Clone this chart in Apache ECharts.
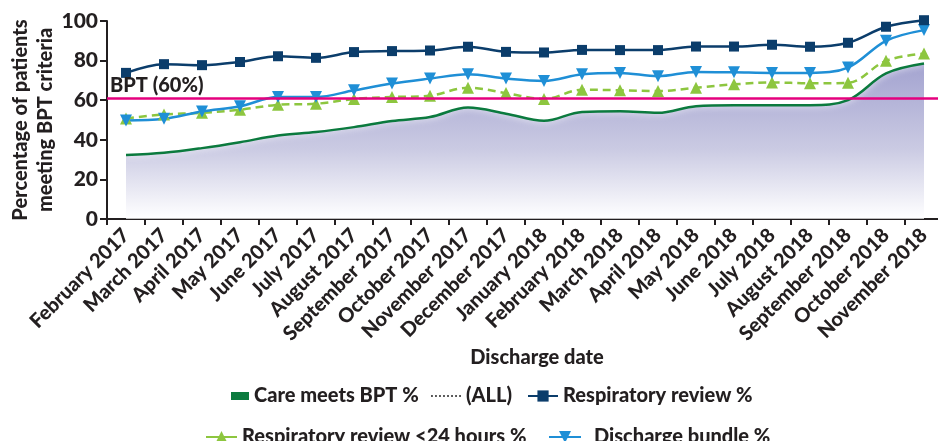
<!DOCTYPE html>
<html>
<head>
<meta charset="utf-8">
<script src="https://cdn.jsdelivr.net/npm/echarts@6/dist/echarts.min.js"></script>
<style>
html,body{margin:0;padding:0;background:#fff;}
#chart{width:938px;height:441px;}
</style>
</head>
<body>
<div id="chart"></div>
<script>
const categories = ['February 2017','March 2017','April 2017','May 2017','June 2017','July 2017','August 2017','September 2017','October 2017','November 2017','December 2017','January 2018','February 2018','March 2018','April 2018','May 2018','June 2018','July 2018','August 2018','September 2018','October 2018','November 2018'];
const careMeetsBPT = [32.3, 33.4, 35.8, 38.8, 42.2, 43.9, 46.4, 49.5, 51.5, 56.3, 53.2, 49.6, 54.1, 54.4, 53.6, 57.0, 57.5, 57.5, 57.5, 60.0, 73.5, 78.5];
const respiratoryReview = [73.8, 78.2, 77.7, 79.3, 82.2, 81.4, 84.3, 84.8, 85.1, 87.0, 84.4, 84.1, 85.4, 85.3, 85.3, 87.1, 87.1, 88.0, 87.0, 89.0, 97.1, 100.4];
const respReview24h = [50.8, 52.8, 53.6, 55.2, 57.7, 58.2, 60.6, 61.6, 62.3, 66.3, 63.6, 60.6, 65.3, 65.0, 64.6, 66.3, 68.0, 69.0, 68.5, 68.8, 79.9, 83.6];
const dischargeBundle = [49.7, 50.6, 54.3, 56.9, 61.6, 61.6, 65.0, 68.4, 70.9, 73.1, 70.9, 69.7, 73.1, 73.8, 72.1, 74.3, 74.1, 73.8, 73.8, 76.5, 90.0, 95.4];
const bptTarget = 61;
const bptLabel = 'BPT (60%)';
const yTicks = {min: 0, max: 100, interval: 20};

const FONT = 'Lato';
const TXT = '#231f20';
const W = 900;
const chart = echarts.init(document.getElementById('chart'), null, {renderer: 'canvas'});
const legendText = {fontFamily: FONT, fontWeight: W, fontSize: 20, color: TXT};

// dotted-line legend glyph
let dots = '';
for (let i = 0; i < 8; i++) { dots += 'M' + (i * 3.4) + ',0h1.6v1.6h-1.6z'; }
const dottedIcon = 'path://' + dots;

chart.setOption({
  animation: false,
  textStyle: {fontFamily: FONT},
  grid: {left: 107, top: 21, bottom: 222, width: 836, containLabel: false, outerBoundsMode: 'none'},
  xAxis: {
    type: 'category',
    data: categories,
    boundaryGap: true,
    name: 'Discharge date',
    nameLocation: 'middle',
    nameGap: 123,
    nameTextStyle: {fontFamily: FONT, fontWeight: W, fontSize: 20, color: TXT, padding: [0, 0, 0, 24]},
    axisLine: {lineStyle: {color: TXT, width: 2}},
    axisTick: {show: true, inside: false, length: 6, alignWithLabel: false, lineStyle: {color: TXT, width: 2}},
    axisLabel: {rotate: 45, interval: 0, margin: 13, fontFamily: FONT, fontWeight: W, fontSize: 20, color: TXT}
  },
  yAxis: {
    type: 'value',
    min: yTicks.min, max: yTicks.max, interval: yTicks.interval,
    name: 'Percentage of patients\nmeeting BPT criteria',
    nameLocation: 'middle',
    nameRotate: 90,
    nameGap: 49,
    nameMoveOverlap: false,
    nameTextStyle: {fontFamily: FONT, fontWeight: W, fontSize: 20, lineHeight: 25, color: TXT},
    axisLine: {show: true, lineStyle: {color: TXT, width: 2}},
    axisTick: {show: true, inside: false, length: 7, lineStyle: {color: TXT, width: 2}},
    splitLine: {show: false},
    axisLabel: {margin: 9, fontFamily: FONT, fontWeight: W, fontSize: 21, color: TXT}
  },
  legend: [
    {data: ['Care meets BPT %'], left: 226, top: 381, icon: 'rect', itemWidth: 18, itemHeight: 8, textStyle: legendText},
    {data: [{name: '(ALL)', icon: dottedIcon}, 'Respiratory review %'], left: 426, top: 381, itemWidth: 30, itemHeight: 14, itemGap: 15, textStyle: legendText},
    {data: ['Respiratory review <24 hours %'], left: 200, top: 422, itemWidth: 31, itemHeight: 15, lineStyle: {type: 'solid'}, textStyle: legendText},
    {data: ['Discharge bundle %'], left: 543, top: 422, itemWidth: 32, itemHeight: 15, textStyle: Object.assign({}, legendText, {padding: [0, 0, 0, 8]})}
  ],
  series: [
    {
      name: 'Care meets BPT %',
      type: 'line',
      data: careMeetsBPT,
      smooth: 0.35,
      symbol: 'none',
      color: '#0b7a3e',
      lineStyle: {color: '#0b7a3e', width: 2.5, shadowColor: 'rgba(255,255,255,1)', shadowBlur: 6},
      areaStyle: {
        origin: 'start',
        color: new echarts.graphic.LinearGradient(0, 0, 0, 1, [
          {offset: 0, color: '#7b7bbb'},
          {offset: 0.55, color: '#b3b3d6'},
          {offset: 1, color: '#ffffff'}
        ])
      },
      z: 1,
      markLine: {
        silent: true,
        symbol: 'none',
        data: [{yAxis: bptTarget}],
        lineStyle: {color: '#e5007e', width: 2.5, type: 'solid'},
        label: {position: 'insideStartTop', formatter: bptLabel, distance: [3, 3], fontFamily: FONT, fontWeight: W, fontSize: 20, color: TXT}
      }
    },
    {
      name: '(ALL)',
      type: 'line',
      data: [],
      symbol: 'none',
      color: '#555555',
      itemStyle: {color: '#555555'},
      lineStyle: {color: '#555555', width: 1.5, type: 'dotted'}
    },
    {
      name: 'Respiratory review %',
      type: 'line',
      data: respiratoryReview,
      smooth: 0.35,
      clip: false,
      symbol: 'rect',
      symbolSize: 10,
      color: '#0b3d6b',
      lineStyle: {color: '#0b3d6b', width: 2.5},
      itemStyle: {color: '#0b3d6b'},
      z: 4
    },
    {
      name: 'Respiratory review <24 hours %',
      type: 'line',
      data: respReview24h,
      smooth: 0.35,
      symbol: 'triangle',
      symbolSize: 12,
      color: '#8dc63f',
      lineStyle: {color: '#8dc63f', width: 2.5, type: [8, 5]},
      itemStyle: {color: '#8dc63f'},
      z: 3
    },
    {
      name: 'Discharge bundle %',
      type: 'line',
      data: dischargeBundle,
      smooth: 0.35,
      symbol: 'triangle',
      symbolRotate: 180,
      symbolSize: 12,
      color: '#1f8fd6',
      lineStyle: {color: '#1f8fd6', width: 2.5},
      itemStyle: {color: '#1f8fd6'},
      z: 3
    }
  ]
});
</script>
</body>
</html>
